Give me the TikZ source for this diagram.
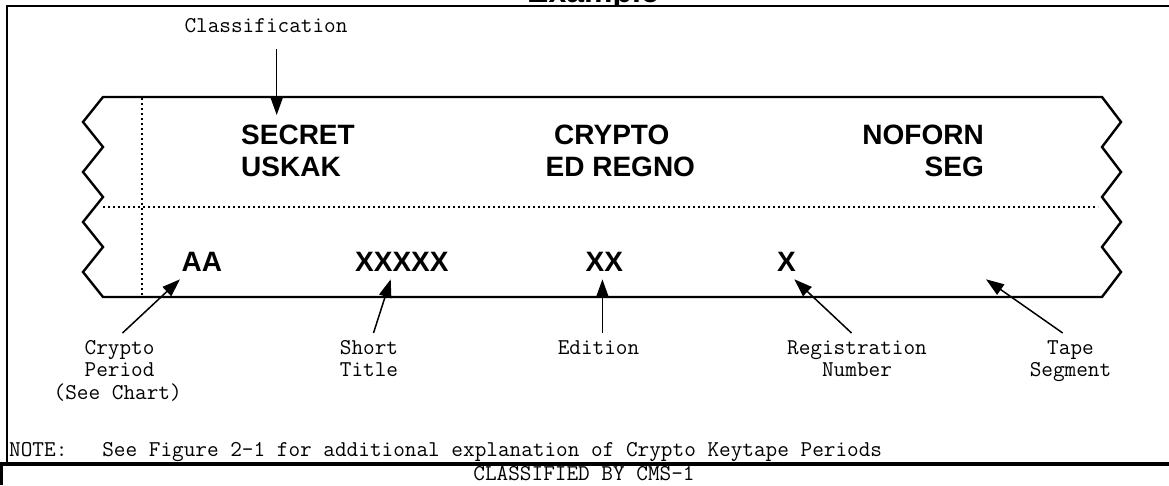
\documentclass[tikz,border=0pt]{standalone}
\usepackage{fontspec}
\newfontfamily\tagfont{Liberation Sans}
\usetikzlibrary{arrows.meta}
\begin{document}
\begin{tikzpicture}[x=1pt,y=-1pt,
  mono/.style={font=\ttfamily\fontsize{22.6pt}{22.4pt}\selectfont, inner sep=0pt},
  tag/.style={font=\tagfont\bfseries\fontsize{28pt}{28pt}\selectfont, inner sep=0pt},
  head/.style={font=\tagfont\bfseries\fontsize{32pt}{32pt}\selectfont, inner sep=0pt},
  ptr/.style={line width=1.5pt, -{Triangle[length=18pt,width=12.5pt]}},
  tapeline/.style={line width=2.4pt, line join=miter},
  guide/.style={line width=1.7pt, dash pattern=on 2.4pt off 2.6pt},
  frame/.style={line width=2.4pt},
  heavyframe/.style={line width=3.6pt}]
\useasboundingbox (0,0) rectangle (1169,485);
\clip (0,0) rectangle (1169,485);

% heading above the frame: only its lower edge falls on the page
\begin{scope}
  \clip (0,0) rectangle (1169,4.6);
  \node[head, anchor=base west] (ex) at (527,2.2) {Example};
\end{scope}

% outer frame and the classification strip below it
\draw[frame] (7,464) -- (7,6) -- (1169,6);
\draw[heavyframe] (0,464) -- (1169,464);
\draw[frame] (1.5,464) -- (1.5,485);

% the keytape segment with torn (zigzag) ends
\draw[tapeline] (103,97) -- (83,122) -- (103,147) -- (83,172) -- (103,197)
  -- (83,222) -- (103,247) -- (83,272) -- (103,297) -- (1102,297)
  -- (1121,272) -- (1102,247) -- (1121,222) -- (1102,197) -- (1121,172)
  -- (1102,147) -- (1121,122) -- (1102,97) -- cycle;
\draw[guide] (103,207) -- (1098,207);
\draw[guide] (141.7,98) -- (141.7,296);

% printing on the tape
\node[tag, anchor=base west] (secret) at (241,144) {SECRET};
\node[tag, anchor=base west] (uskak) at (241,176) {USKAK};
\node[tag, anchor=base west] (crypto) at (554,144) {CRYPTO};
\node[tag, anchor=base west] (edregno) at (545.5,176) {ED REGNO};
\node[tag, anchor=base east] (noforn) at (984,144) {NOFORN};
\node[tag, anchor=base east] (seg) at (984,176) {SEG};
\node[tag, anchor=base west] (aa) at (181.5,271.7) {AA};
\node[tag, anchor=base west] (xxxxx) at (355,271.7) {XXXXX};
\node[tag, anchor=base west] (xx) at (585.5,271.7) {XX};
\node[tag, anchor=base west] (x) at (777,271.7) {X};

% callout labels
\node[mono, anchor=base] (lclass) at (266,32) {Classification};
\node[mono, anchor=base] (lcp1) at (119.6,354.3) {Crypto};
\node[mono, anchor=base] (lcp2) at (119.6,376.7) {Period};
\node[mono, anchor=base] (lcp3) at (117.7,399) {(See Chart)};
\node[mono, anchor=base] (lst1) at (369,354.3) {Short};
\node[mono, anchor=base] (lst2) at (369,376.7) {Title};
\node[mono, anchor=base] (led) at (598.5,354.3) {Edition};
\node[mono, anchor=base] (lrn1) at (857,354.3) {Registration};
\node[mono, anchor=base] (lrn2) at (857,376.7) {Number};
\node[mono, anchor=base] (lts1) at (1070.5,354.3) {Tape};
\node[mono, anchor=base] (lts2) at (1070.5,376.7) {Segment};
\node[mono, anchor=base west] (note) at (9,456)
  {NOTE:\ \ \ See Figure 2-1 for additional explanation of Crypto Keytape Periods};
\node[mono, anchor=base] (cls) at (584,480) {CLASSIFIED BY CMS-1};

% arrow ends
\coordinate (classTail) at (276.7,49);
\coordinate (classTip) at (276.7,115);
\coordinate (cpTail) at (122.5,333);
\coordinate (cpTip) at (180,279.3);
\coordinate (stTail) at (373.5,333);
\coordinate (stTip) at (390.7,279.3);
\coordinate (edTail) at (602.4,333);
\coordinate (edTip) at (602.4,279.3);
\coordinate (rnTail) at (851.5,333);
\coordinate (rnTip) at (794.3,279.3);
\coordinate (tsTail) at (1062.7,333);
\coordinate (tsTip) at (986,279.3);

\draw[ptr] (classTail) -- (classTip);
\draw[ptr] (cpTail) -- (cpTip);
\draw[ptr] (stTail) -- (stTip);
\draw[ptr] (edTail) -- (edTip);
\draw[ptr] (rnTail) -- (rnTip);
\draw[ptr] (tsTail) -- (tsTip);
\end{tikzpicture}
\end{document}
